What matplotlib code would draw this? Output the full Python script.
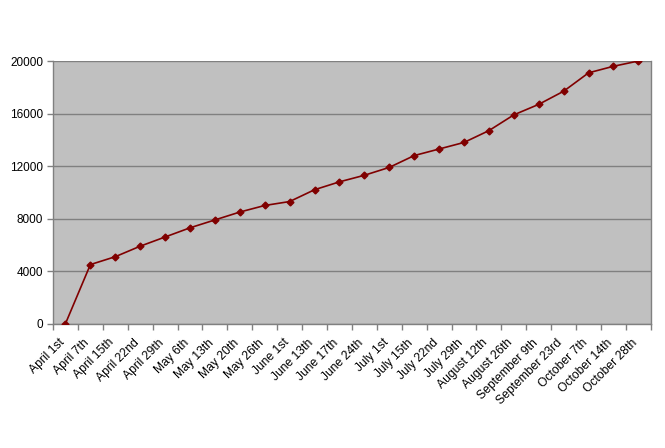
import numpy as np
import matplotlib
matplotlib.use("Agg")
import matplotlib.pyplot as plt
import matplotlib.transforms as mtransforms

plt.rcParams['font.family'] = ['Liberation Sans', 'DejaVu Sans']

dates = ["April 1st", "April 7th", "April 15th", "April 22nd", "April 29th",
         "May 6th", "May 13th", "May 20th", "May 26th", "June 1st",
         "June 13th", "June 17th", "June 24th", "July 1st", "July 15th",
         "July 22nd", "July 29th", "August 12th", "August 26th",
         "September 9th", "September 23rd", "October 7th", "October 14th",
         "October 28th"]
values = [0, 4500, 5100, 5900, 6600, 7300, 7900, 8500, 9000, 9300,
          10200, 10800, 11300, 11900, 12800, 13300, 13800, 14700, 15900,
          16700, 17700, 19100, 19600, 20000]
yticks = [0, 4000, 8000, 12000, 16000, 20000]

fig = plt.figure(figsize=(6.65, 4.48), dpi=100)
ax = fig.add_axes([0.0797, 0.2775, 0.899, 0.5863])
ax.set_facecolor('#C0C0C0')

x = np.arange(len(dates))
ax.plot(x, values, color='#800000', lw=1.2, marker='D', markersize=3.5,
        markerfacecolor='#800000', markeredgecolor='#800000', zorder=3)

ax.set_xlim(-0.5, len(dates) - 0.5)
ax.set_ylim(0, 20000)
ax.set_yticks(yticks)
ax.set_yticklabels([str(v) for v in yticks], fontsize=8.5)
ax.yaxis.grid(True, color='#808080', lw=1)
ax.set_axisbelow(True)

# подписи дат: повёрнутые, со сдвигом влево-вниз
ax.set_xticks([])
ax.set_xticks(np.arange(-0.5, len(dates)), minor=True)
shift = mtransforms.ScaledTranslation(-0.07, -0.13, fig.dpi_scale_trans)
for xi, d in zip(x, dates):
    ax.text(xi, 0, d, transform=ax.get_xaxis_transform() + shift,
            rotation=45, ha='right', va='top', rotation_mode='anchor',
            fontsize=8.7)
ax.tick_params(axis='x', which='minor', length=4, color='#808080', width=1)
ax.tick_params(axis='y', length=4, color='#808080', width=1, pad=3)

for s in ax.spines.values():
    s.set_color('#808080')
    s.set_linewidth(1)
ax.spines['top'].set_visible(False)

fig.savefig('out.png', dpi=100)
